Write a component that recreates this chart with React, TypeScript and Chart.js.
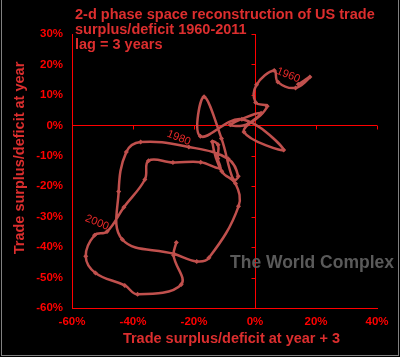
import React, { useEffect, useRef } from 'react';
import { Chart, registerables } from 'chart.js';

Chart.register(...registerables);

// ---- data (point t = (value at year t+3, value at year t)) ----
const years = [
  1960, 1961, 1962, 1963, 1964, 1965, 1966, 1967, 1968, 1969,
  1970, 1971, 1972, 1973, 1974, 1975, 1976, 1977, 1978, 1979,
  1980, 1981, 1982, 1983, 1984, 1985, 1986, 1987, 1988, 1989,
  1990, 1991, 1992, 1993, 1994, 1995, 1996, 1997, 1998, 1999,
  2000, 2001, 2002, 2003, 2004, 2005, 2006, 2007, 2008,
];
const surplusAtYearPlus3 = [
  0.142, 0.180, 0.133, 0.075, 0.063, 0.005, 0.002, 0.040, -0.022, -0.081,
  0.020, -0.036, 0.094, -0.043, -0.179, -0.167, -0.110, -0.071, -0.055, -0.088,
  -0.217, -0.375, -0.422, -0.447, -0.435, -0.266, -0.191, -0.151, -0.054, -0.064,
  -0.109, -0.140, -0.121, -0.122, -0.116, -0.178, -0.269, -0.349, -0.361, -0.430,
  -0.485, -0.526, -0.555, -0.523, -0.427, -0.385, -0.242, -0.267, -0.258,
];
const surplusAtYear = [
  0.135, 0.159, 0.123, 0.142, 0.180, 0.133, 0.075, 0.063, 0.005, 0.002,
  0.040, -0.022, -0.081, 0.020, -0.036, 0.094, -0.043, -0.179, -0.167, -0.110,
  -0.071, -0.055, -0.088, -0.217, -0.375, -0.422, -0.447, -0.435, -0.266, -0.191,
  -0.151, -0.054, -0.064, -0.109, -0.140, -0.121, -0.122, -0.116, -0.178, -0.269,
  -0.349, -0.361, -0.430, -0.485, -0.526, -0.555, -0.523, -0.427, -0.385,
];
const labeledYears = [1960, 1980, 2000];

const xMin = -0.6, xMax = 0.4, xStep = 0.2;
const yMin = -0.6, yMax = 0.3, yStep = 0.1;

const chartTitle = [
  '2-d phase space reconstruction of US trade',
  'surplus/deficit 1960-2011',
  'lag = 3 years',
];
const xAxisTitle = 'Trade surplus/deficit at year + 3';
const yAxisTitle = 'Trade surplus/deficit at year';
const watermark = 'The World Complex';

// ---- styles ----
const FONT = '"Liberation Sans", Arial, sans-serif';
const AXIS = '#ff0000';
const TICK_TEXT = '#ff0000';
const TITLE_TEXT = '#dc2e2e';
const LINE = '#c0504d';
const LABEL_TEXT = '#e82828';

const pct = (v: number) => Math.round(v * 100) + '%';

const overlayPlugin = {
  id: 'overlay',
  beforeDatasetsDraw(chart: any) {
    const { ctx, scales } = chart;
    const xs = scales.x, ys = scales.y;
    const x0 = xs.getPixelForValue(0);
    const y0 = ys.getPixelForValue(0);
    ctx.save();
    ctx.strokeStyle = AXIS;
    ctx.lineWidth = 1;
    ctx.beginPath();
    ys.ticks.forEach((t: any) => {
      const py = Math.round(ys.getPixelForValue(t.value)) + 0.5;
      ctx.moveTo(Math.round(x0) + 0.5 - 4, py);
      ctx.lineTo(Math.round(x0) + 0.5, py);
    });
    xs.ticks.forEach((t: any) => {
      const px = Math.round(xs.getPixelForValue(t.value)) + 0.5;
      ctx.moveTo(px, Math.round(y0) + 0.5);
      ctx.lineTo(px, Math.round(y0) + 0.5 + 4);
    });
    ctx.stroke();
    ctx.restore();
  },
  afterDraw(chart: any) {
    const { ctx, chartArea } = chart;
    ctx.save();
    // chart title
    ctx.fillStyle = TITLE_TEXT;
    ctx.font = `bold 14.5px ${FONT}`;
    ctx.textAlign = 'left';
    ctx.textBaseline = 'alphabetic';
    chartTitle.forEach((line, i) => {
      ctx.fillText(line, chartArea.left + 3, 18.5 + i * 15.2);
    });
    // axis titles
    ctx.textAlign = 'center';
    ctx.textBaseline = 'middle';
    ctx.fillText(xAxisTitle, chartArea.left + 159.5, chartArea.bottom + 31);
    ctx.save();
    ctx.translate(20, chartArea.top + 124);
    ctx.rotate(-Math.PI / 2);
    ctx.fillText(yAxisTitle, 0, 0);
    ctx.restore();
    // watermark
    ctx.fillStyle = '#5a5a5a';
    ctx.font = `bold 17.5px ${FONT}`;
    ctx.textAlign = 'left';
    ctx.fillText(watermark, chartArea.left + 158, chartArea.top + 229);
    // year labels
    const meta = chart.getDatasetMeta(0);
    ctx.fillStyle = LABEL_TEXT;
    ctx.font = `11px ${FONT}`;
    ctx.textAlign = 'center';
    labeledYears.forEach((yr) => {
      const idx = years.indexOf(yr);
      const el = meta.data[idx];
      if (!el) return;
      ctx.save();
      ctx.translate(el.x - 10, el.y - 9);
      ctx.rotate((22 * Math.PI) / 180);
      ctx.fillText(String(yr), 0, 0);
      ctx.restore();
    });
    ctx.restore();
  },
};

export default function App() {
  const canvasRef = useRef<HTMLCanvasElement | null>(null);

  useEffect(() => {
    document.body.style.margin = '0';
    document.body.style.background = '#000';
    const canvas = canvasRef.current;
    if (!canvas) return;
    const zeroColor = (c: any) =>
      c.tick && Math.abs(c.tick.value) < 1e-9 ? AXIS : 'rgba(0,0,0,0)';
    const chart = new Chart(canvas, {
      type: 'scatter',
      data: {
        datasets: [
          {
            data: years.map((_, i) => ({ x: surplusAtYearPlus3[i], y: surplusAtYear[i] })),
            showLine: true,
            tension: 0.4,
            borderColor: LINE,
            backgroundColor: LINE,
            borderWidth: 2.5,
            pointStyle: 'rectRot',
            pointRadius: 2.5,
            pointBorderWidth: 0,
            pointBackgroundColor: LINE,
          } as any,
        ],
      },
      options: {
        animation: false,
        responsive: true,
        maintainAspectRatio: false,
        layout: { padding: { top: 34, right: 23, left: 0, bottom: 0 } },
        plugins: {
          legend: { display: false },
          tooltip: { enabled: false },
          title: { display: false },
        },
        scales: {
          x: {
            type: 'linear',
            min: xMin,
            max: xMax,
            afterFit: (s: any) => { s.height = 49; },
            ticks: {
              stepSize: xStep,
              color: TICK_TEXT,
              font: { family: FONT, size: 11.5, weight: 'bold' },
              padding: 7,
              callback: (v: any) => pct(Number(v)),
            },
            grid: { color: zeroColor, lineWidth: 1, drawTicks: false },
            border: { display: true, color: AXIS, width: 1 },
          },
          y: {
            type: 'linear',
            min: yMin,
            max: yMax,
            afterFit: (s: any) => { s.width = 72; },
            ticks: {
              stepSize: yStep,
              color: TICK_TEXT,
              font: { family: FONT, size: 11.5, weight: 'bold' },
              padding: 9,
              callback: (v: any) => pct(Number(v)),
            },
            grid: { color: zeroColor, lineWidth: 1, drawTicks: false },
            border: { display: true, color: AXIS, width: 1 },
          },
        },
      } as any,
      plugins: [overlayPlugin],
    });
    return () => chart.destroy();
  }, []);

  return (
    <div style={{ position: 'relative', width: 400, height: 357, background: '#000' }}>
      <canvas ref={canvasRef} />
      <div
        style={{
          position: 'absolute',
          left: 1,
          top: 0,
          width: 398,
          height: 356,
          boxSizing: 'border-box',
          border: '1px solid #808080',
          borderTop: 'none',
          pointerEvents: 'none',
        }}
      />
    </div>
  );
}
